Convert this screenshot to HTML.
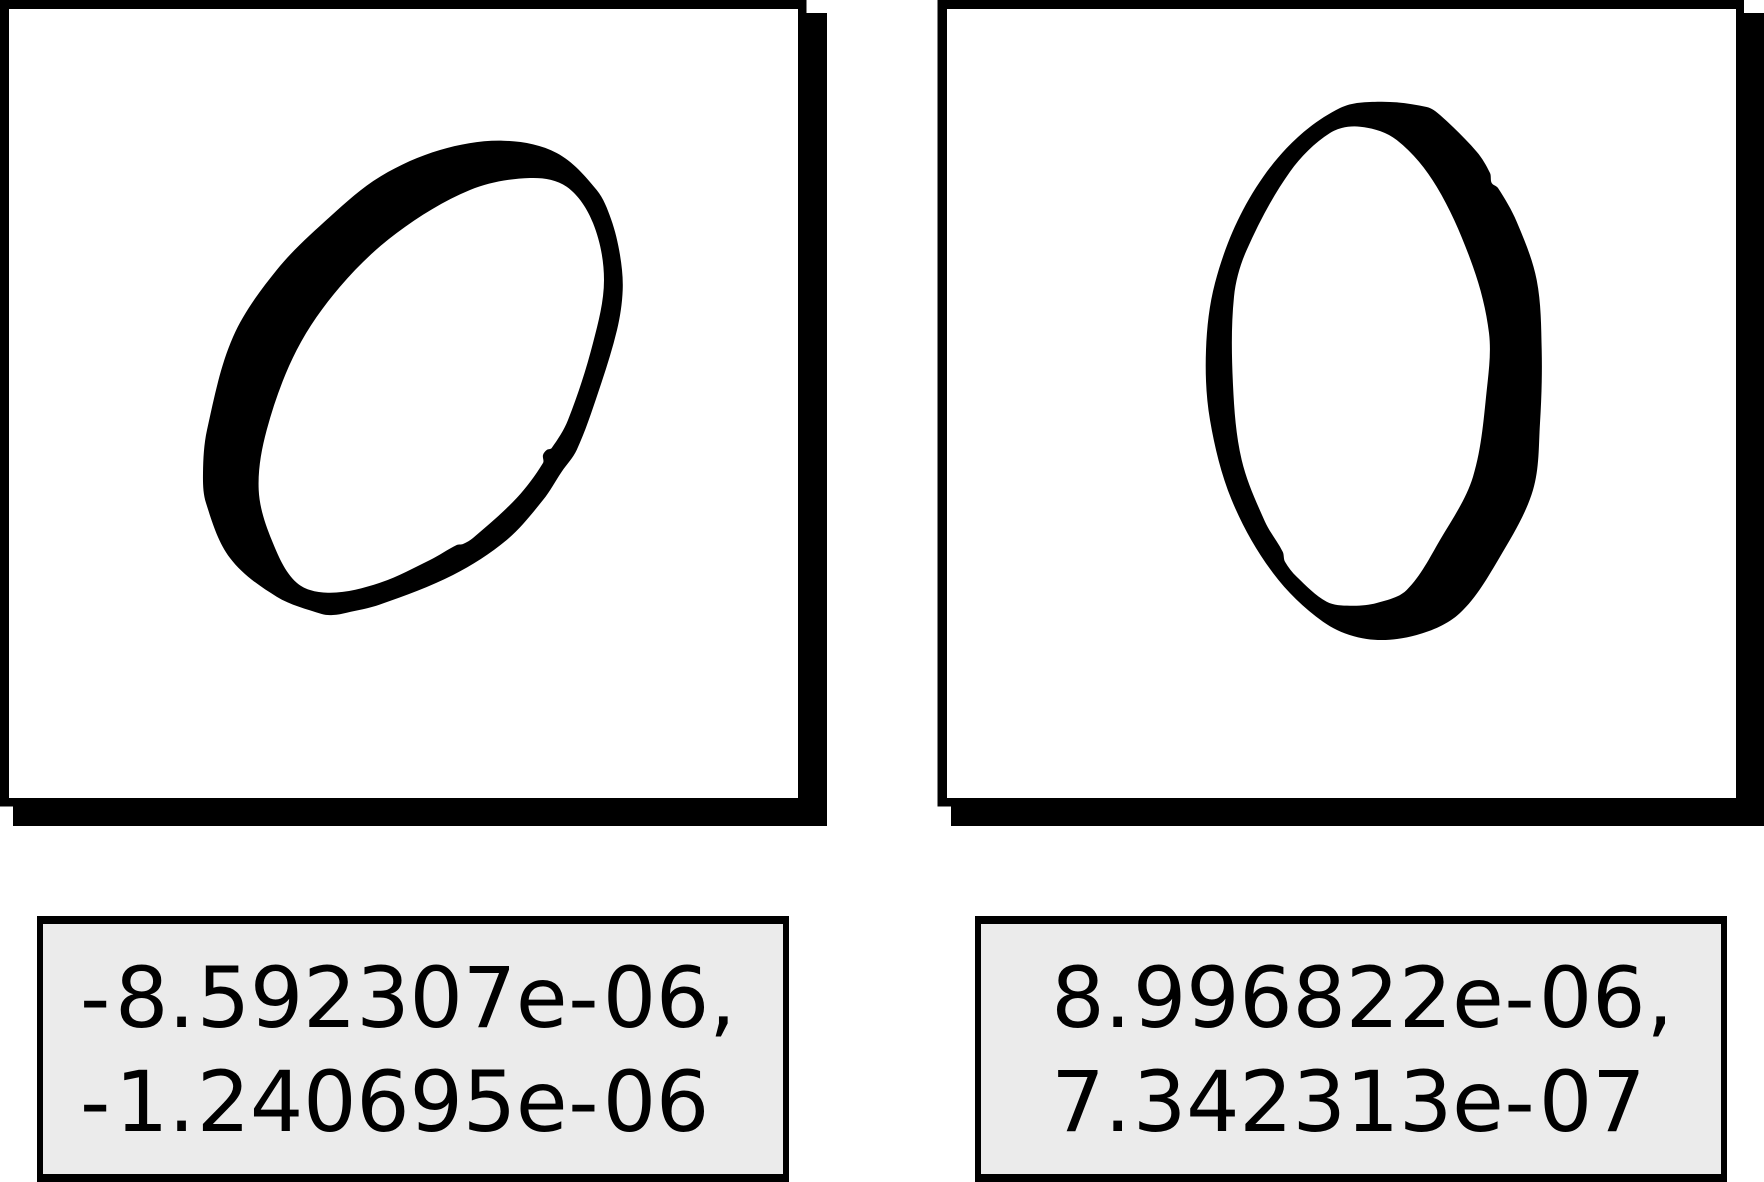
<!DOCTYPE html>
<html lang="en">
<head>
<meta charset="utf-8">
<title>Digit reconstructions</title>
<style>
html,body{margin:0;padding:0;background:#fff;width:1764px;height:1182px;overflow:hidden}
svg{display:block}
text{font-family:"DejaVu Sans",sans-serif;font-size:84px;fill:#000}
</style>
</head>
<body>
<svg xmlns="http://www.w3.org/2000/svg" width="1764" height="1182" viewBox="0 0 1764 1182">
  <rect width="1764" height="1182" fill="#fff"/>

  <g>
    <rect x="13" y="13" width="814" height="813" fill="#000"/>
    <rect x="0" y="0" width="806.5" height="806.5" fill="#000"/>
    <rect x="9" y="9" width="789" height="789" fill="#fff"/>
    <path id="left-digit" fill="#000" fill-rule="evenodd"/>
  </g>

  <g>
    <rect x="951" y="13" width="813" height="813" fill="#000"/>
    <rect x="937.5" y="0" width="806.5" height="806.5" fill="#000"/>
    <rect x="947" y="9" width="789" height="789" fill="#fff"/>
    <path id="right-digit" fill="#000" fill-rule="evenodd"/>
  </g>

  <g>
    <rect x="37" y="916" width="752" height="266" fill="#000"/>
    <rect x="43" y="924" width="740" height="250" fill="#ebebeb"/>
    <text y="1027" x="80 115 168.2 196.7 249.9 303.1 356.3 409.5 462.7 515.9 568.2 602.7 655.9 709.1">-8.592307e-06,</text>
    <text y="1131" x="80 115 168.2 196.7 249.9 303.1 356.3 409.5 462.7 515.9 568.2 602.7 655.9">-1.240695e-06</text>
  </g>

  <g>
    <rect x="975" y="916" width="752" height="266" fill="#000"/>
    <rect x="981" y="924" width="740" height="250" fill="#ebebeb"/>
    <text y="1027" x="1051.2 1104.4 1132.9 1186.1 1239.3 1292.5 1345.7 1398.9 1452.1 1504.4 1538.9 1592.1 1646.5">8.996822e-06,</text>
    <text y="1131" x="1051.2 1104.4 1132.9 1186.1 1239.3 1292.5 1345.7 1398.9 1452.1 1504.4 1538.9 1592.1">7.342313e-07</text>
  </g>
</svg>
<script>
var leftOuter = [[380,176.7],[440,150],[503,140.7],[556.7,153],[596.7,190],[611,219],[620,255],[622.7,290],[617,330],[598,393],[576.7,450],[561.7,471.7],[543,500],[506.7,540],[453,575],[380,604.5],[346.7,612.7],[333,615],[321.7,614],[276.7,596.7],[230,558],[206,503],[203,473],[207,430],[233,337],[276.7,270],[330,216.7]];
var leftInner = [[530,178],[566.7,186.7],[593,223],[604,280],[593,343],[568,420],[551.7,448],[546.7,450],[543,455],[543,463],[516.7,498],[473,538],[463,544],[456.7,545],[430,560],[380,582.7],[330,592.7],[296.7,582.7],[271.7,540],[258.7,490],[266.7,430],[296.7,350],[340,286.7],[396.7,233],[470,190]];
var rightOuter = [[1380,101.7],[1426.7,107],[1440,115],[1476.7,151.7],[1490,173],[1491.7,183],[1498,188],[1516.7,221.7],[1536.7,280],[1541.7,350],[1540,423],[1533,490],[1500,556.7],[1460,613],[1416.7,635],[1366.7,639],[1323,621.7],[1273,573],[1231.7,500],[1210,420],[1206,350],[1215,283],[1243,210],[1286.7,148],[1340,108]];
var rightInner = [[1360,126.7],[1396.7,140],[1436.7,186.7],[1473,266.7],[1489,333],[1487.3,385],[1473,476.7],[1440,540],[1406.7,590],[1376.7,603],[1350,605.7],[1326.7,601.7],[1296.7,576.7],[1285,561.7],[1282.7,551.7],[1265,521.7],[1241.7,460],[1233,385],[1234,296.7],[1246.7,250],[1290,171.7],[1330,133]];

function tangent(pts, i) {
  var n = pts.length;
  var a = pts[(i - 1 + n) % n];
  var b = pts[(i + 1) % n];
  var dx = b[0] - a[0];
  var dy = b[1] - a[1];
  var len = Math.sqrt(dx * dx + dy * dy) || 1;
  return [dx / len, dy / len];
}

function smoothClosed(pts) {
  var n = pts.length;
  var d = 'M' + pts[0][0].toFixed(2) + ' ' + pts[0][1].toFixed(2);
  for (var i = 0; i < n; i++) {
    var p1 = pts[i];
    var p2 = pts[(i + 1) % n];
    var seg = Math.sqrt(Math.pow(p2[0] - p1[0], 2) + Math.pow(p2[1] - p1[1], 2)) / 3;
    var t1 = tangent(pts, i);
    var t2 = tangent(pts, (i + 1) % n);
    d += 'C' + (p1[0] + t1[0] * seg).toFixed(2) + ' ' + (p1[1] + t1[1] * seg).toFixed(2) + ' ' + (p2[0] - t2[0] * seg).toFixed(2) + ' ' + (p2[1] - t2[1] * seg).toFixed(2) + ' ' + p2[0].toFixed(2) + ' ' + p2[1].toFixed(2);
  }
  return d + 'Z';
}

document.getElementById('left-digit').setAttribute('d', smoothClosed(leftOuter) + smoothClosed(leftInner));
document.getElementById('right-digit').setAttribute('d', smoothClosed(rightOuter) + smoothClosed(rightInner));
</script>
</body>
</html>
